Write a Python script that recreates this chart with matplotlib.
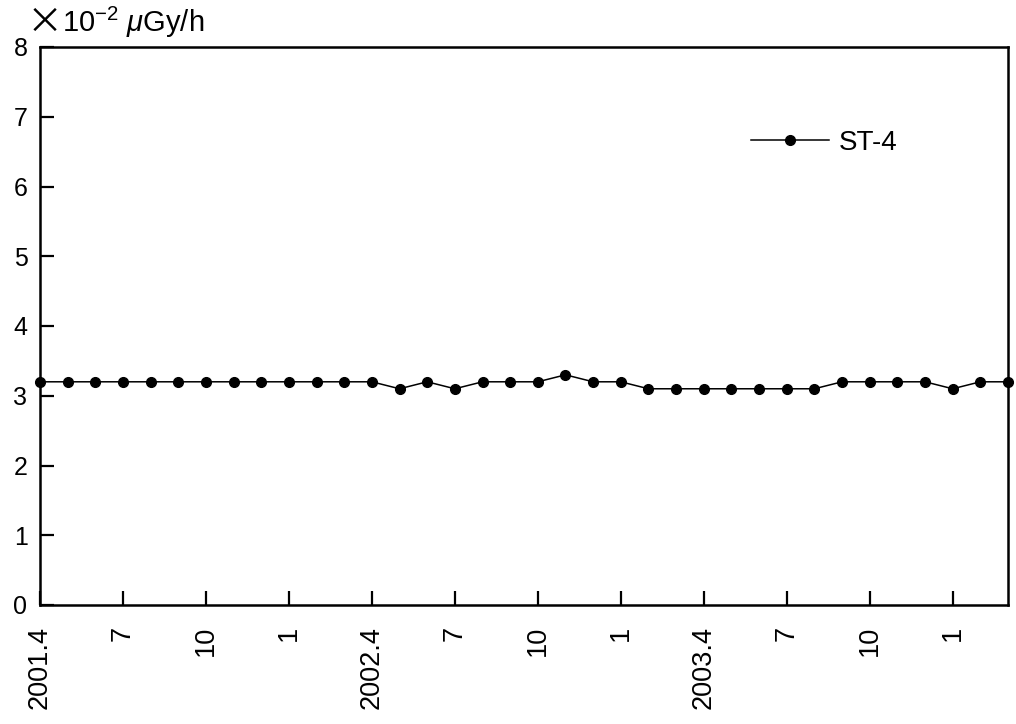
import matplotlib
matplotlib.use("Agg")
import matplotlib.pyplot as plt
import numpy as np

plt.rcParams['font.family'] = ['Liberation Sans', 'DejaVu Sans']
plt.rcParams['mathtext.fontset'] = 'custom'
plt.rcParams['mathtext.rm'] = 'Liberation Sans'
plt.rcParams['mathtext.it'] = 'Liberation Sans:italic'

# monthly values 2001.4 - 2004.3 (x10^-2 uGy/h)
values = [3.2, 3.2, 3.2, 3.2, 3.2, 3.2, 3.2, 3.2, 3.2, 3.2, 3.2, 3.2,
          3.2, 3.1, 3.2, 3.1, 3.2, 3.2, 3.2, 3.3, 3.2, 3.2, 3.1, 3.1,
          3.1, 3.1, 3.1, 3.1, 3.1, 3.2, 3.2, 3.2, 3.2, 3.1, 3.2, 3.2]
tick_labels = ["2001.4", "7", "10", "1", "2002.4", "7", "10", "1",
               "2003.4", "7", "10", "1"]
series_name = "ST-4"
y_ticks = [0, 1, 2, 3, 4, 5, 6, 7, 8]

fig = plt.figure(figsize=(10.16, 7.24), dpi=100)
ax = fig.add_axes([40/1016, 1-605/724, 968/1016, 558/724])

x = np.arange(len(values))
ax.plot(x, values, color='black', linewidth=1.1, marker='o', markersize=7,
        clip_on=False, label=series_name, zorder=5)

ax.set_xlim(0, len(values) - 1)
ax.set_ylim(0, 8)
ax.set_xticks(np.arange(0, len(values), 3))
ax.set_xticklabels(tick_labels, rotation=90, fontsize=19.5)
ax.set_yticks(y_ticks)
ax.set_yticklabels([str(v) for v in y_ticks], fontsize=18)
ax.tick_params(axis='x', direction='in', length=10, width=1.6, pad=15, bottom=True, top=False)
ax.tick_params(axis='y', direction='in', length=10, width=1.6, pad=9, left=True, right=False)
for s in ax.spines.values():
    s.set_linewidth(1.8)

ax.legend(loc='center left', bbox_to_anchor=(0.735, 0.828), frameon=False,
          fontsize=20, handlelength=2.8, handletextpad=0.36, borderpad=0,
          borderaxespad=0)

fig.text(27/1016, 1-23/724, "\u00d7", fontsize=26, ha='left', va='center',
         family=['Noto Sans CJK JP', 'DejaVu Sans'])
fig.text(62/1016, 1-22/724, r"10$^{-2}$ $\mu$Gy/h", fontsize=21,
         ha='left', va='center')

fig.savefig("out.png", dpi=100)
